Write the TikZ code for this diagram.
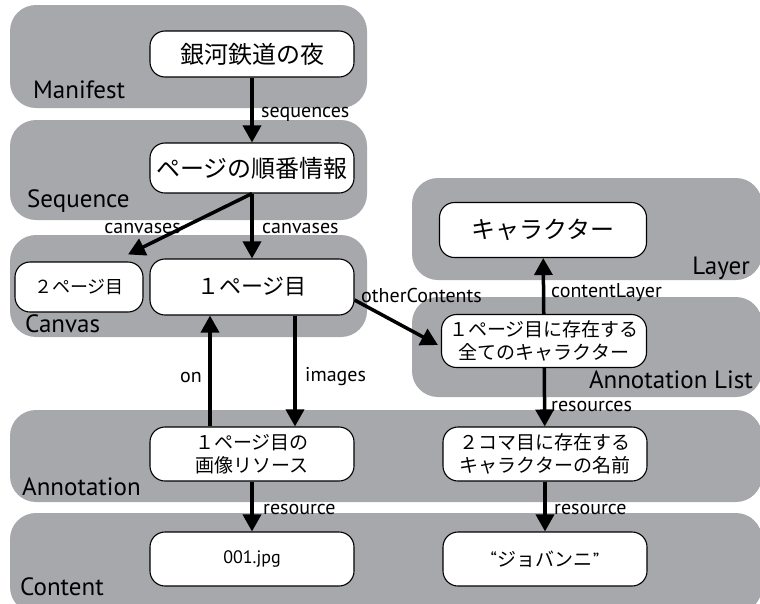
\documentclass[tikz,border=0pt]{standalone}
\usepackage{fontspec}
\setmainfont{PT Sans}
\newfontfamily\jpfont{Noto Sans CJK JP}
\usetikzlibrary{arrows.meta}
\definecolor{bandgray}{RGB}{167,168,172}

\begin{document}
\begin{tikzpicture}[
    x=1pt, y=-1pt,
    band/.style={rectangle, fill=bandgray, rounded corners=26pt, inner sep=0pt},
    bandlabel/.style={inner sep=0pt, text=black, font=\fontsize{25}{25}\selectfont},
    entity/.style={rectangle, draw, line width=1.1pt, fill=white, rounded corners=15pt, minimum width=204pt, minimum height=54pt, inner sep=0pt, align=center, font=\jpfont\fontsize{19}{23}\selectfont},
    arrow/.style={-{Triangle[length=17pt,width=18pt]}, line width=3.5pt},
    link/.style={inner sep=0pt, text=black, font=\fontsize{20}{20}\selectfont}
]
\useasboundingbox (0,0) rectangle (760,603);

% Bands
\node[band, minimum width=357pt, minimum height=103pt] (manifest) at (188.5,56.5) {};
\node[band, minimum width=357pt, minimum height=100pt] (sequence) at (188.5,170) {};
\node[band, minimum width=357pt, minimum height=102pt] (canvas) at (188.5,286) {};
\node[band, minimum width=350pt, minimum height=102pt] (layer) at (587,229) {};
\node[band, minimum width=350pt, minimum height=100pt] (annolist) at (587,347) {};
\node[band, minimum width=752pt, minimum height=92pt] (annotation) at (386,456) {};
\node[band, minimum width=752pt, minimum height=100pt] (content) at (386,563) {};

% Band labels
\node[bandlabel, anchor=base west] (manifest_lbl) at (33,98) {Manifest};
\node[bandlabel, anchor=base west] (sequence_lbl) at (27,207) {Sequence};
\node[bandlabel, anchor=base west] (canvas_lbl) at (25,332) {Canvas};
\node[bandlabel, anchor=base east] (layer_lbl) at (750,274) {Layer};
\node[bandlabel, anchor=base east] (annolist_lbl) at (753,388) {Annotation List};
\node[bandlabel, anchor=base west] (annotation_lbl) at (22,495) {Annotation};
\node[bandlabel, anchor=base west] (content_lbl) at (20,595) {Content};

% Entities
\node[entity, minimum height=46pt, font=\jpfont\fontsize{24}{24}\selectfont] (night) at (252,54) {銀河鉄道の夜};
\node[entity, minimum height=50pt, font=\jpfont\fontsize{24}{24}\selectfont] (order) at (252,168) {ページの順番情報};
\node[entity, minimum width=128pt, minimum height=50pt, font=\jpfont\fontsize{18}{18}\selectfont] (page2) at (79,287) {２ページ目};
\node[entity, minimum height=56pt, font=\jpfont\fontsize{22}{22}\selectfont] (page1) at (252,287) {１ページ目};
\node[entity, minimum width=207pt, minimum height=55pt, font=\jpfont\fontsize{24}{24}\selectfont] (chara) at (543,230) {キャラクター};
\node[entity, minimum width=205pt, minimum height=53pt] (allchara) at (544,341) {１ページ目に存在する\\全てのキャラクター};
\node[entity] (pageimg) at (252,454) {１ページ目の\\画像リソース};
\node[entity] (charaname) at (545,454) {２コマ目に存在する\\キャラクターの名前};
\node[entity, font=\fontsize{18}{18}\selectfont] (jpg) at (252,559) {001.jpg};
\node[entity] (giovanni) at (545,559) {{\rmfamily “}ジョバンニ{\rmfamily ”}};

% Connectors
\draw[arrow] (night) -- (order);
\draw[arrow] (order.south) -- ([xshift=49pt,yshift=7pt]page2.north);
\draw[arrow] (order) -- (page1);
\draw[arrow] ([xshift=-42pt]pageimg.north) -- ([xshift=-42pt]page1.south);
\draw[arrow] ([xshift=43pt]page1.south) -- ([xshift=43pt]pageimg.north);
\draw[arrow] ([yshift=-13pt]page1.east) -- ([xshift=-3pt,yshift=-4pt]allchara.west);
\draw[arrow] (allchara) -- (chara);
\draw[arrow] (allchara) -- (charaname);
\draw[arrow] (pageimg) -- (jpg);
\draw[arrow] (charaname) -- (giovanni);

% Connector labels
\node[link, anchor=base west] (sequences_lbl) at (261,117) {sequences};
\node[link, anchor=base east] (canvases2_lbl) at (181,233) {canvases};
\node[link, anchor=base west] (canvases1_lbl) at (262,233) {canvases};
\node[link, anchor=base east] (on_lbl) at (202,382) {on};
\node[link, anchor=base west] (images_lbl) at (305,381) {images};
\node[link, anchor=base west] (other_lbl) at (361,302) {otherContents};
\node[link, anchor=base west] (contentlayer_lbl) at (551,297) {contentLayer};
\node[link, anchor=base west] (resources_lbl) at (551,411) {resources};
\node[link, anchor=base west] (resource1_lbl) at (263,514) {resource};
\node[link, anchor=base west] (resource2_lbl) at (554,514) {resource};

\end{tikzpicture}
\end{document}
